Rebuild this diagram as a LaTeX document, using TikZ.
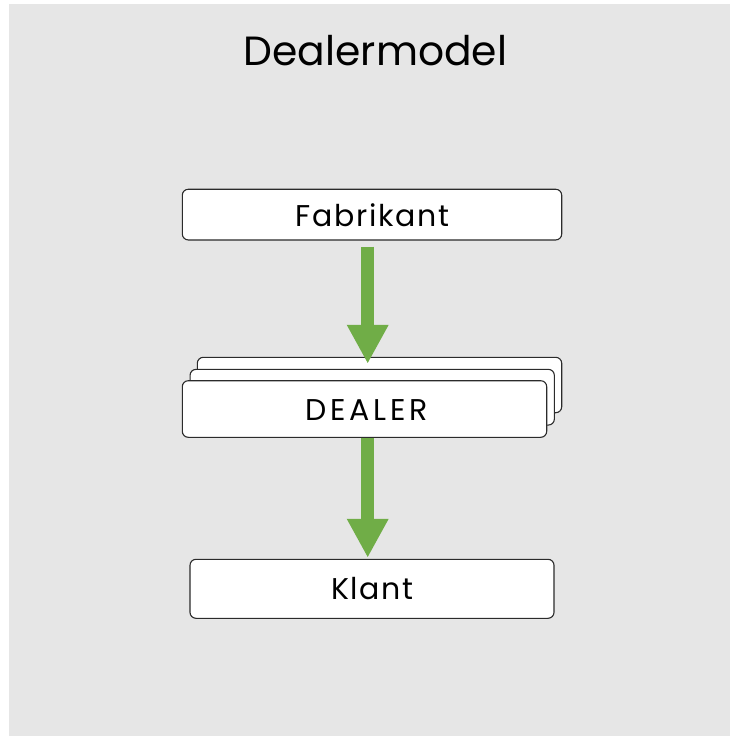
\documentclass[tikz,border=0pt]{standalone}
\usepackage{fontspec}
\setmainfont{Poppins}
\newfontfamily\lblfont{Poppins}[LetterSpace=5.5]
\newfontfamily\capsfont{Poppins}[LetterSpace=13.0]
\usetikzlibrary{arrows.meta,calc}
\definecolor{bggray}{HTML}{E6E6E6}
\definecolor{arrowgreen}{HTML}{70AD47}
\definecolor{boxline}{HTML}{2B2B2B}
\begin{document}
\begin{tikzpicture}[x=1pt,y=-1pt,
  box/.style={draw=boxline,fill=white,line width=1.1pt,rounded corners=6pt,inner sep=0pt},
  lbl/.style={font=\lblfont\fontsize{30}{34}\selectfont},
  capslbl/.style={font=\capsfont\fontsize{30}{34}\selectfont},
  flow/.style={draw=arrowgreen,line width=13pt,-{Triangle[width=39pt,length=39pt]}}]
\useasboundingbox (0,0) rectangle (730,736);
\fill[bggray] (9,4) rectangle (730,736);
\node[font=\fontsize{40.8}{46}\selectfont,anchor=base] (title) at (375.5,65) {Dealermodel};
% Fabrikant
\node[box,minimum width=379.4pt,minimum height=50.7pt] (fab) at (372,214.6) {};
\node[lbl] (fabt) at ($(fab.center)+(0.5,0.5)$) {Fabrikant};
% Dealer stack
\node[box,minimum width=364.4pt,minimum height=55.4pt] (d3) at (379.5,385) {};
\node[box,minimum width=364.3pt,minimum height=55.7pt] (d2) at (372.2,397.2) {};
\node[box,minimum width=364.4pt,minimum height=56.6pt] (dealer) at (364.5,409) {};
\node[capslbl] (dealert) at ($(dealer.center)+(2,1)$) {DEALER};
% Klant
\node[box,minimum width=364pt,minimum height=59pt] (klant) at (372,588.8) {};
\node[lbl] (klantt) at ($(klant.center)+(0.5,0)$) {Klant};
% arrows
\draw[flow] ($(fab.south)+(-4.3,6)$) -- ($(d3.north)+(-11.8,7)$);
\draw[flow] ($(dealer.south)+(3.2,0)$) -- ($(klant.north)+(-4.3,-1)$);
\end{tikzpicture}
\end{document}
